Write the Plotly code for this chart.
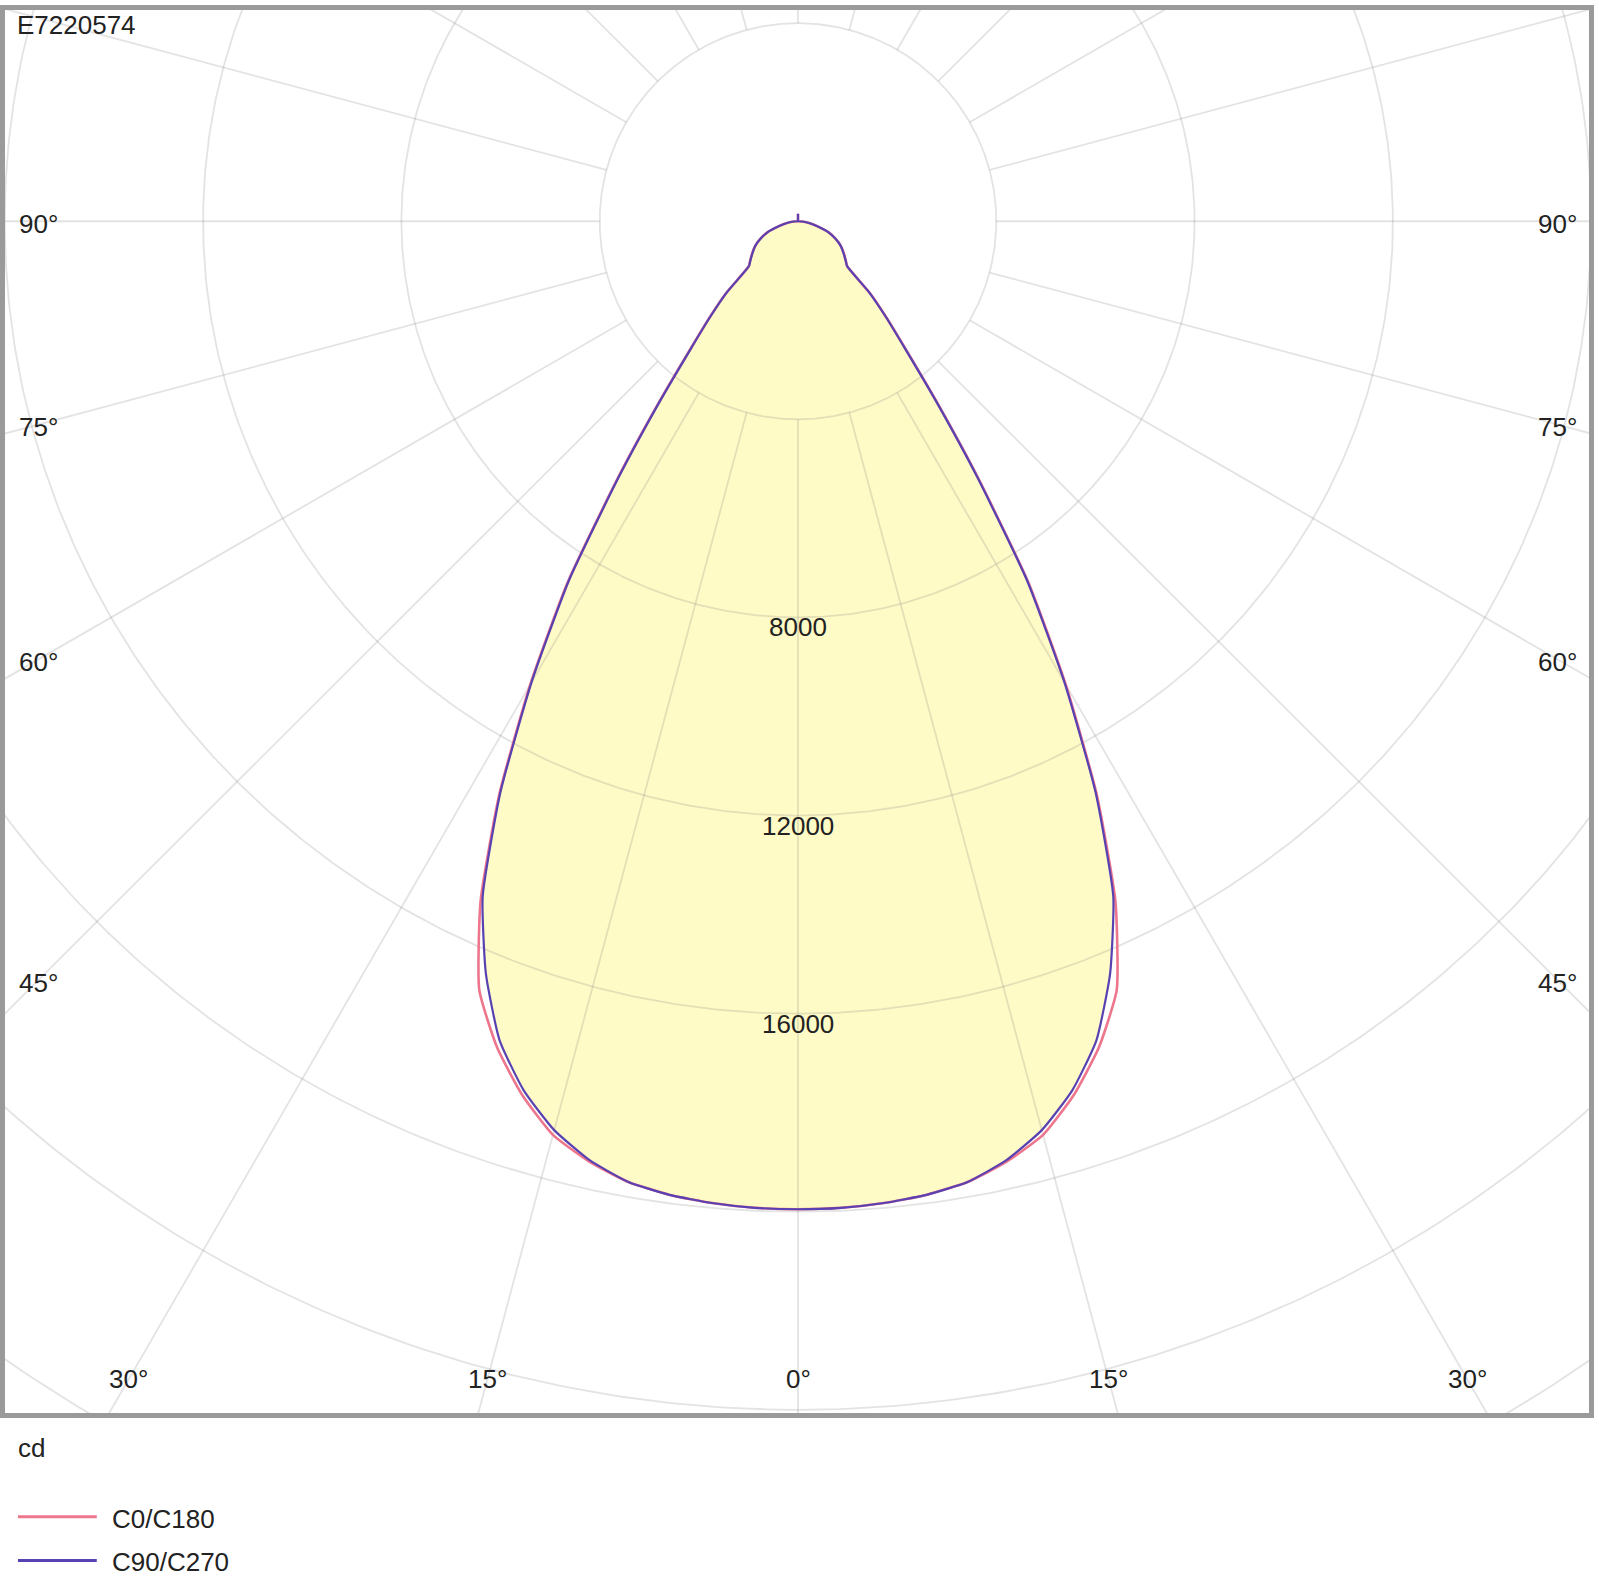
import numpy as np
import plotly.graph_objects as go

# ---------------- data ----------------
title_text = "E7220574"
unit_text = "cd"
series_names = ["C0/C180", "C90/C270"]

gamma_deg = [0, 2.5, 5, 7.5, 10, 12.5, 15, 17.5, 20, 22.5, 25, 27.5, 30, 32.5, 35,
             37.5, 40, 42.5, 45, 47.5, 50, 55, 60, 65, 70, 75, 80, 85, 90, 95,
             100, 110, 120, 130, 140, 150, 160, 170, 175, 180]
i_c0_c180 = [19950, 19940, 19900, 19830, 19700, 19450, 19100, 18500, 17750, 16800,
             15150, 13050, 10800, 8650, 6350, 4600, 3400, 2650, 2050, 1350,
             1266, 1130, 1000, 840, 660, 420, 260, 120, 20, 0,
             0, 0, 0, 0, 0, 0, 0, 0, 0, 150]
i_c90_c270 = [19950, 19940, 19900, 19830, 19700, 19420, 19000, 18400, 17600, 16450,
              15050, 13000, 10750, 8600, 6300, 4560, 3370, 2630, 2030, 1340,
              1260, 1120, 995, 835, 655, 415, 255, 118, 20, 0,
              0, 0, 0, 0, 0, 0, 0, 0, 0, 150]

ring_values = [4000, 8000, 12000, 16000, 20000, 24000, 28000, 32000]
ring_label_values = [8000, 12000, 16000]
angle_label_values = [0, 15, 30, 45, 60, 75, 90]
radial_angles = list(range(0, 360, 15))

# ---------------- geometry / style ----------------
W, H = 1599, 1582
ML, MR, MT, MB = 5, 6, 5, 169
PW = W - ML - MR
PH = H - MT - MB
S = 0.0497          # pixels per cd
CX, CY = 795, 212   # pole position inside plot area (px)
x_range = [-CX / S, (PW - CX) / S]
y_range = [-(PH - CY) / S, CY / S]

RED = "rgb(238,118,140)"
BLUE = "rgb(88,66,178)"
FILL = "rgb(255,251,198)"
GRID = "rgba(140,140,140,0.24)"
TXT = "#222222"
FONT = "Liberation Sans"
FS = 26


def closed_curve(g, vals):
    g = np.radians(np.asarray(g, dtype=float))
    v = np.asarray(vals, dtype=float)
    xl = -(v * np.sin(g))[::-1]
    yl = -(v * np.cos(g))[::-1]
    xr = v * np.sin(g)
    yr = -v * np.cos(g)
    return np.concatenate([xl, xr[1:]]), np.concatenate([yl, yr[1:]])


fig = go.Figure()

# yellow fill
fx, fy = closed_curve(gamma_deg, i_c90_c270)
fig.add_trace(go.Scatter(x=fx, y=fy, mode="lines", fill="toself", fillcolor=FILL,
                         line=dict(width=0, color=FILL, shape="spline", smoothing=0.5),
                         hoverinfo="skip", showlegend=False))

# grid rings
t = np.linspace(0, 2 * np.pi, 721)
gx, gy = [], []
for rv in ring_values:
    gx += list(rv * np.sin(t)) + [None]
    gy += list(-rv * np.cos(t)) + [None]
# radial lines (from the first ring outwards)
for a in radial_angles:
    ar = np.radians(a)
    gx += [ring_values[0] * np.sin(ar), 60000 * np.sin(ar), None]
    gy += [-ring_values[0] * np.cos(ar), -60000 * np.cos(ar), None]
fig.add_trace(go.Scatter(x=gx, y=gy, mode="lines", line=dict(color=GRID, width=1.8),
                         hoverinfo="skip", showlegend=False))

# curves
rx, ry = closed_curve(gamma_deg, i_c0_c180)
fig.add_trace(go.Scatter(x=rx, y=ry, mode="lines", name=series_names[0],
                         line=dict(color=RED, width=2.6, shape="spline", smoothing=0.5),
                         showlegend=False))
bx, by = closed_curve(gamma_deg, i_c90_c270)
fig.add_trace(go.Scatter(x=bx, y=by, mode="lines", name=series_names[1],
                         line=dict(color=BLUE, width=2.2, shape="spline", smoothing=0.5),
                         showlegend=False))

annotations = []
# ring labels
for v in ring_label_values:
    annotations.append(dict(x=0, y=-v, xref="x", yref="y", text=str(v), showarrow=False,
                            xanchor="center", yanchor="middle", yshift=-10,
                            font=dict(family=FONT, size=FS, color=TXT)))

# angle labels placed where each radial line meets an inset frame
inset_x = 32 / S
inset_y = 34 / S
x_edge = x_range[1] - inset_x
y_edge = y_range[0] + inset_y
for a in angle_label_values:
    ar = np.radians(a)
    for side in ([1] if a == 0 else [-1, 1]):
        dx, dy = side * np.sin(ar), -np.cos(ar)
        cands = []
        if abs(dx) > 1e-9:
            cands.append((x_edge / abs(dx), "side"))
        if dy < -1e-9:
            cands.append((y_edge / dy, "bottom"))
        tt, kind = min(cands, key=lambda c: c[0])
        annotations.append(dict(x=tt * dx, y=tt * dy, xref="x", yref="y", text=f"{a}°",
                                showarrow=False, xanchor="center", yanchor="middle",
                                yshift=-3 if kind == "side" else 0,
                                font=dict(family=FONT, size=FS, color=TXT)))


def px_to_paper(px, py):
    return (px - ML) / PW, (MT + PH - py) / PH


# title
tx, ty = px_to_paper(15, 20)
annotations.append(dict(x=tx, y=ty, xref="paper", yref="paper", text=title_text,
                        showarrow=False, xanchor="left", yanchor="middle",
                        font=dict(family=FONT, size=FS, color=TXT)))
# unit
ux, uy = px_to_paper(16, 1448)
annotations.append(dict(x=ux, y=uy, xref="paper", yref="paper", text=unit_text,
                        showarrow=False, xanchor="left", yanchor="middle",
                        font=dict(family=FONT, size=FS, color=TXT)))

# legend (drawn manually)
shapes = []
legend_rows = [(series_names[0], RED, 1517), (series_names[1], BLUE, 1561)]
for name, col, py in legend_rows:
    x0, y0 = px_to_paper(18, py)
    x1, _ = px_to_paper(97, py)
    shapes.append(dict(type="line", xref="paper", yref="paper", x0=x0, x1=x1, y0=y0, y1=y0,
                       line=dict(color=col, width=3)))
    lx, ly = px_to_paper(110, py + 2)
    annotations.append(dict(x=lx, y=ly, xref="paper", yref="paper", text=name,
                            showarrow=False, xanchor="left", yanchor="middle",
                            font=dict(family=FONT, size=FS, color=TXT)))

axis_common = dict(showgrid=False, zeroline=False, showticklabels=False, ticks="",
                   showline=True, mirror=True, linecolor="#9a9a9a", linewidth=5,
                   fixedrange=True)
fig.update_layout(
    width=W, height=H,
    margin=dict(l=ML, r=MR, t=MT, b=MB, pad=0),
    paper_bgcolor="white", plot_bgcolor="white",
    xaxis=dict(range=x_range, **axis_common),
    yaxis=dict(range=y_range, **axis_common),
    annotations=annotations, shapes=shapes,
    showlegend=False,
)
fig.write_html("out.html", config={"displayModeBar": False},
               post_script="document.body.style.margin='0';document.body.style.overflow='hidden';")
